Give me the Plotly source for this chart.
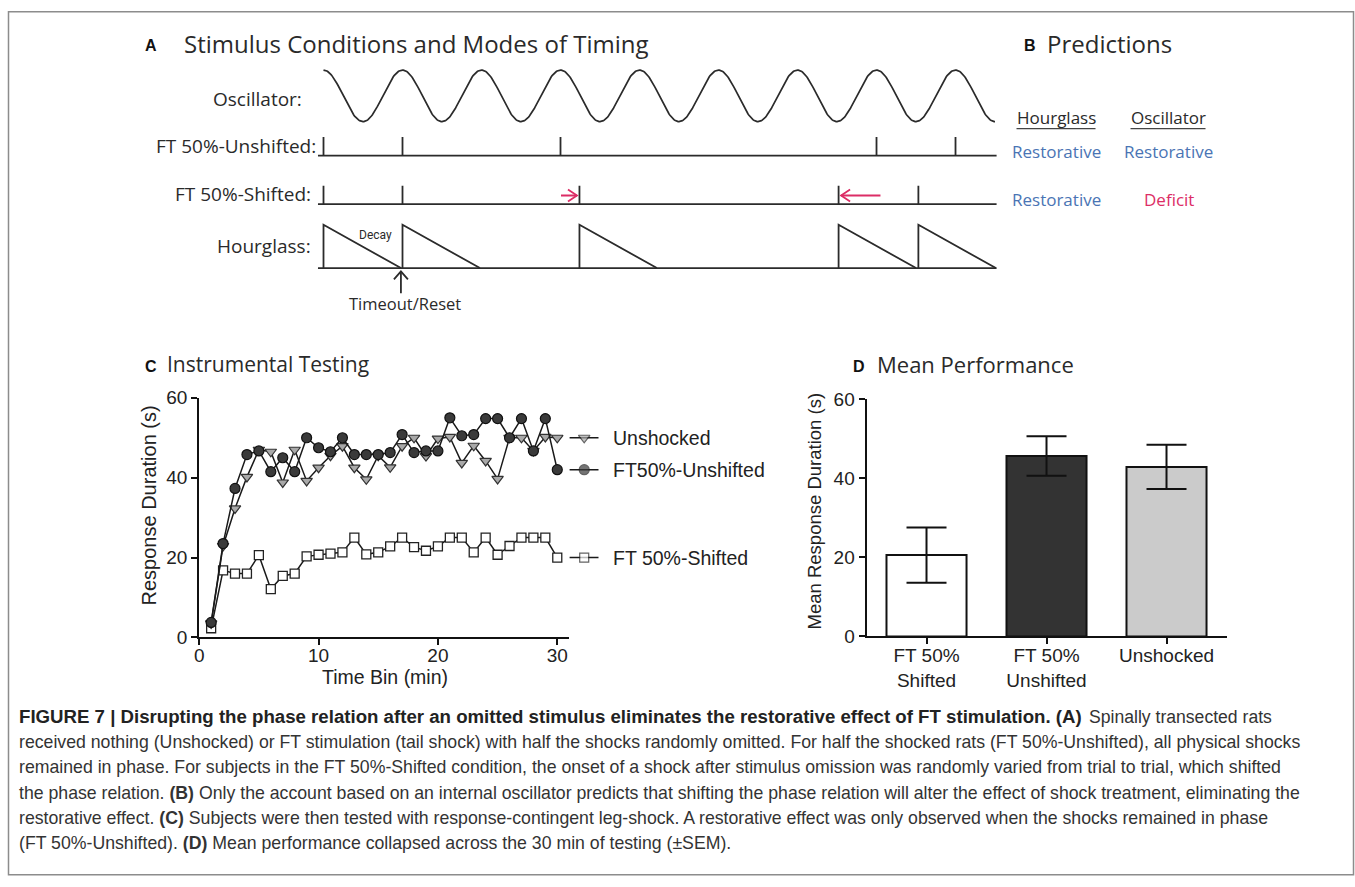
import numpy as np
import plotly.graph_objects as go

W, H = 1355, 887

# ---------------- Panel A / B (diagram) data ----------------
n_periods = 8.5                      # oscillator length, in periods
unshifted_shocks = [0, 1, 3, 7, 8]   # shock times (periods)
shifted_shocks = [0, 1, 3.24, 6.52, 7.53]
shift_from = [3, 7]                  # expected (in-phase) time
shift_to = [3.24, 6.52]              # actual shifted time
decay_len = 0.98                     # hourglass decay (periods)
pred_models = ["Hourglass", "Oscillator"]
pred_unshifted = ["Restorative", "Restorative"]
pred_shifted = ["Restorative", "Deficit"]

# ---------------- Panel C data ----------------
time_bin = list(range(1, 31))
unshocked = [3.5, 22.9, 32.3, 40.2, 47.0, 46.5, 38.8, 47.0, 39.2, 42.5,
             45.5, 47.9, 42.5, 39.6, 45.5, 42.6, 47.9, 50.0, 45.4, 49.8,
             50.2, 43.7, 48.0, 44.2, 39.7, 50.0, 50.0, 46.7, 50.2, 50.0]
ft_unshifted = [3.75, 23.5, 37.3, 45.8, 46.7, 41.5, 45.0, 41.5, 50.0, 47.5,
                46.5, 50.0, 45.8, 45.8, 45.8, 46.3, 50.8, 46.3, 46.7, 46.7,
                55.0, 50.5, 50.8, 54.8, 54.8, 50.0, 54.8, 46.7, 54.8, 42.0]
ft_shifted = [2.3, 16.8, 16.0, 16.0, 20.6, 12.1, 15.4, 16.0, 20.3, 20.7,
              21.0, 21.3, 25.0, 20.8, 21.3, 22.8, 25.0, 22.6, 21.7, 22.8,
              25.0, 25.0, 21.3, 25.0, 20.7, 22.9, 25.0, 25.0, 25.0, 20.0]
c_xticks = [0, 10, 20, 30]
c_yticks = [0, 20, 40, 60]

# ---------------- Panel D data ----------------
groups = ["FT 50%<br>Shifted", "FT 50%<br>Unshifted", "Unshocked"]
means = [20.6, 45.7, 42.9]
sems = [7.0, 5.0, 5.6]
bar_colors = ["#ffffff", "#333333", "#cbcbcb"]

# ---------------- placement helpers ----------------
# targets are given in picture pixels; a small correction maps them to page pixels
def X(xt):
    return (xt - 3.5) / 0.9963

def Y(yt):
    return (yt - 8.2) / 0.978

def fx(xt):
    return X(xt) / W

def fy(yt):
    return 1 - Y(yt) / H

DARK = "#2b2b2b"
BLUE = "#4a74b4"
RED = "#dc2d66"
ARIAL = "Liberation Sans, Arial, sans-serif"
MYRIAD = "Open Sans, Noto Sans, sans-serif"

# Panel A frame: x in oscillator periods, y in picture-pixel rows
A_X0, A_PER = 322.0, 79.0
A_XR = [-0.1, 8.6]
A_YR = [300, 55]
OSC_MID, OSC_AMP = 94.2, 25.8
UNS_Y, SHF_Y, HG_Y = 154.0, 202.7, 266.7
TICK_H = 18.5
HG_TOP = 223.3
ARROW_Y = 194.0

fig = go.Figure()

# ---- Panel A traces ----
u = np.linspace(0, n_periods, 800)
fig.add_trace(go.Scatter(x=u, y=OSC_MID - OSC_AMP * np.cos(2 * np.pi * u),
                         mode="lines", line=dict(color=DARK, width=1.7),
                         xaxis="x3", yaxis="y3", hoverinfo="skip"))

xs, ys = [], []
for yb in (UNS_Y, SHF_Y, HG_Y):
    xs += [-0.07, n_periods + 0.02, None]
    ys += [yb, yb, None]
for t in unshifted_shocks:
    xs += [t, t, None]
    ys += [UNS_Y, UNS_Y - TICK_H, None]
for t in shifted_shocks:
    xs += [t, t, None]
    ys += [SHF_Y, SHF_Y - TICK_H, None]
for t in shifted_shocks:
    xs += [t, t, t + decay_len, None]
    ys += [HG_Y, HG_TOP, HG_Y, None]
# timeout / reset arrow
tr = shifted_shocks[0] + decay_len
xs += [tr, tr, None, tr - 7 / A_PER, tr, tr + 7 / A_PER, None]
ys += [292, 270, None, 278, 270, 278, None]
fig.add_trace(go.Scatter(x=xs, y=ys, mode="lines", line=dict(color=DARK, width=1.8),
                         xaxis="x3", yaxis="y3", hoverinfo="skip"))

# red shift arrows
rx, ry = [], []
for a, b in zip(shift_from, shift_to):
    d = 1 if b > a else -1
    tip = b - d * 2.5 / A_PER
    start = a + d * (0.5 / A_PER) if d > 0 else a + 0.05
    rx += [start, tip, None, tip - d * 9 / A_PER, tip, tip - d * 9 / A_PER, None]
    ry += [ARROW_Y, ARROW_Y, None, ARROW_Y - 6, ARROW_Y, ARROW_Y + 6, None]
fig.add_trace(go.Scatter(x=rx, y=ry, mode="lines", line=dict(color=RED, width=1.8),
                         xaxis="x3", yaxis="y3", hoverinfo="skip"))

# ---- Panel C traces ----
fig.add_trace(go.Scatter(x=time_bin, y=ft_shifted, mode="lines+markers",
                         line=dict(color="#1a1a1a", width=1.5),
                         marker=dict(symbol="square", size=9, color="white",
                                     line=dict(color="#222", width=1.3)),
                         xaxis="x", yaxis="y"))
fig.add_trace(go.Scatter(x=time_bin, y=unshocked, mode="lines+markers",
                         line=dict(color="#1a1a1a", width=1.5),
                         marker=dict(symbol="triangle-down", size=10, color="#a9a9a9",
                                     line=dict(color="#333", width=1.2)),
                         xaxis="x", yaxis="y"))
fig.add_trace(go.Scatter(x=time_bin, y=ft_unshifted, mode="lines+markers",
                         line=dict(color="#1a1a1a", width=1.5),
                         marker=dict(symbol="circle", size=10, color="#3a3a3a",
                                     line=dict(color="#111", width=1.2)),
                         xaxis="x", yaxis="y"))

# legend glyphs (on an overlay x-axis sharing panel C's y scale)
leg_series = [("Unshocked", unshocked[-1], "triangle-down", "#a9a9a9", 10),
              ("FT50%-Unshifted", ft_unshifted[-1], "circle", "#3a3a3a", 10),
              ("FT 50%-Shifted", ft_shifted[-1], "square", "white", 9)]
for name, v, sym, col, sz in leg_series:
    fig.add_trace(go.Scatter(x=[568, 582.7, 597], y=[v, v, v], mode="lines+markers",
                             line=dict(color="#1a1a1a", width=1.5),
                             marker=dict(symbol=sym, size=[0, sz, 0], color=col,
                                         line=dict(color="#222", width=1.2)),
                             xaxis="x4", yaxis="y", hoverinfo="skip"))

# ---- Panel D ----
fig.add_trace(go.Bar(x=[0, 1, 2], y=means, width=0.667,
                     marker=dict(color=bar_colors, line=dict(color="#111", width=2)),
                     error_y=dict(type="data", array=sems, visible=True,
                                  color="#111", thickness=2, width=20),
                     xaxis="x2", yaxis="y2"))

# ---------------- layout ----------------
tickfont = dict(family=ARIAL, size=19, color="#222")
axis_common = dict(showgrid=False, zeroline=False, showline=True, linewidth=2,
                   linecolor="#111", ticks="outside", ticklen=6, tickwidth=2,
                   tickcolor="#111", tickfont=tickfont)

fig.update_layout(
    width=W, height=H, margin=dict(l=0, r=0, t=0, b=0),
    paper_bgcolor="white", plot_bgcolor="rgba(0,0,0,0)", showlegend=False,
    xaxis=dict(domain=[fx(197.7), fx(567.7)], range=[0, 31], tickvals=c_xticks,
               anchor="y", ticklabelstandoff=-6, **axis_common),
    yaxis=dict(domain=[fy(636.7), fy(396.7)], range=[0, 60], tickvals=c_yticks,
               anchor="x", **axis_common),
    xaxis2=dict(domain=[fx(865), fx(1225)], range=[-0.5, 2.5], tickvals=[0, 1, 2],
                ticktext=groups, anchor="y2", ticklabelstandoff=-5, **axis_common),
    yaxis2=dict(domain=[fy(635.7), fy(398.3)], range=[0, 60], tickvals=c_yticks,
                anchor="x2", **axis_common),
    xaxis3=dict(domain=[fx(A_X0 + A_PER * A_XR[0]), fx(A_X0 + A_PER * A_XR[1])],
                range=A_XR, visible=False, anchor="y3"),
    yaxis3=dict(domain=[fy(A_YR[0]), fy(A_YR[1])], range=A_YR, visible=False,
                anchor="x3"),
    xaxis4=dict(domain=[fx(567.7), fx(800)], range=[567.7, 800], visible=False,
                anchor="y"),
)

ann = []

def txt(x, y, s, size, color="#2a2a2a", family=MYRIAD, xanchor="left", **kw):
    ann.append(dict(x=fx(x), y=fy(y), xref="paper", yref="paper", text=s,
                    showarrow=False, xanchor=xanchor, yanchor="middle",
                    font=dict(family=family, size=size, color=color), **kw))

# panel titles
txt(141, 44, "<b>A</b>", 16, "#111", ARIAL)
txt(180, 42, "Stimulus Conditions and Modes of Timing", 24)
txt(1020, 44, "<b>B</b>", 16, "#111", ARIAL)
txt(1043, 42, "Predictions", 24)
txt(141, 365, "<b>C</b>", 16, "#111", ARIAL)
txt(163, 363, "Instrumental Testing", 21)
txt(849, 365, "<b>D</b>", 16, "#111", ARIAL)
txt(873, 363, "Mean Performance", 22)

# panel A row labels
txt(302, 97, "Oscillator:", 19, xanchor="right")
txt(316, 144, "FT 50%-Unshifted:", 19, xanchor="right")
txt(311, 193, "FT 50%-Shifted:", 19, xanchor="right")
txt(311, 245, "Hourglass:", 19, xanchor="right")
txt(355, 234, "Decay", 12, family="Roboto, sans-serif")
txt(403, 302, "Timeout/Reset", 16.5, xanchor="center")

# panel B
col_x = [1055, 1167]
for cx, m in zip(col_x, pred_models):
    txt(cx, 116, m, 17, xanchor="center")
for cx, p in zip(col_x, pred_unshifted):
    txt(cx, 150, p, 17, BLUE if p == "Restorative" else RED, xanchor="center")
for cx, p in zip(col_x, pred_shifted):
    txt(cx, 198, p, 17, BLUE if p == "Restorative" else RED, xanchor="center")

# axis titles and series labels
txt(147, 505, "Response Duration (s)", 20, "#222", ARIAL, xanchor="center", textangle=-90)
txt(383, 676, "Time Bin (min)", 19.5, "#222", ARIAL, xanchor="center")
txt(813, 510, "Mean Response Duration (s)", 18.5, "#222", ARIAL, xanchor="center", textangle=-90)
for name, v, *_ in leg_series:
    ann.append(dict(x=609, y=v, xref="x4", yref="y", text=name, showarrow=False,
                    xanchor="left", yanchor="middle",
                    font=dict(family=ARIAL, size=19.5, color="#222")))

# caption
cap_first_bold = ("FIGURE 7 | Disrupting the phase relation after an omitted stimulus "
                  "eliminates the restorative effect of FT stimulation. (A)")
cap_first_rest = "Spinally transected rats"
cap_lines = [
    "received nothing (Unshocked) or FT stimulation (tail shock) with half the shocks randomly omitted. For half the shocked rats (FT 50%-Unshifted), all physical shocks",
    "remained in phase. For subjects in the FT 50%-Shifted condition, the onset of a shock after stimulus omission was randomly varied from trial to trial, which shifted",
    "the phase relation. <b>(B)</b> Only the account based on an internal oscillator predicts that shifting the phase relation will alter the effect of shock treatment, eliminating the",
    "restorative effect. <b>(C)</b> Subjects were then tested with response-contingent leg-shock. A restorative effect was only observed when the shocks remained in phase",
    "(FT 50%-Unshifted). <b>(D)</b> Mean performance collapsed across the 30 min of testing (±SEM).",
]
txt(15, 716, "<b>" + cap_first_bold + "</b>", 18.65, "#222", ARIAL)
txt(1272, 716, cap_first_rest, 17.6, "#333", ARIAL, xanchor="right")
for i, line in enumerate(cap_lines):
    txt(15, 716 + 25.4 * (i + 1), line, 17.7, "#333", ARIAL)

fig.update_layout(annotations=ann)

# frame and underlines
shapes = [dict(type="rect", xref="paper", yref="paper", x0=fx(7), x1=fx(1352),
               y0=max(fy(881), 1.2 / H), y1=fy(10),
               line=dict(color="#8c8c8c", width=1.5))]
for x0, x1 in [(1015, 1094), (1129, 1204)]:
    shapes.append(dict(type="line", xref="paper", yref="paper", x0=fx(x0), x1=fx(x1),
                       y0=fy(127), y1=fy(127), line=dict(color="#444", width=1.3)))
fig.update_layout(shapes=shapes)

fig.write_html(
    "out.html",
    config={"displayModeBar": False},
    post_script=("document.body.style.margin='0px';"
                 "document.body.style.overflow='hidden';"
                 "document.documentElement.style.overflow='hidden';"),
)
